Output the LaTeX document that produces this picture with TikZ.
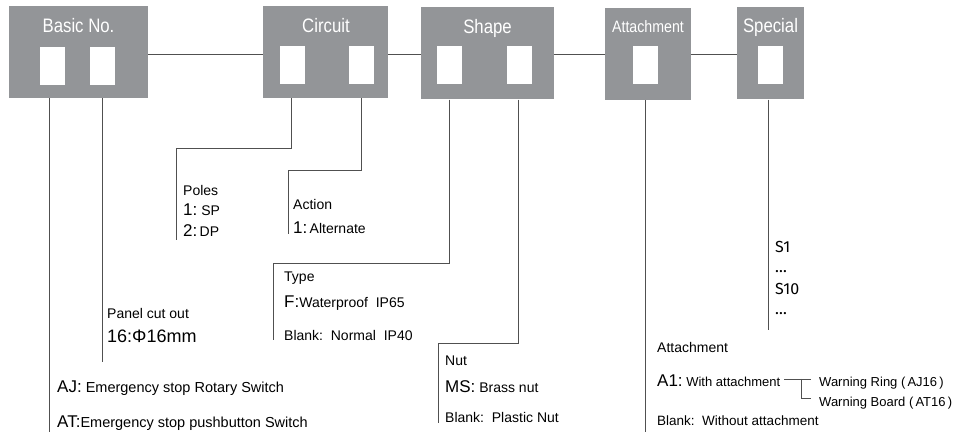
\documentclass[tikz,border=0pt]{standalone}
\usepackage{fontspec}
\setmainfont{Liberation Sans}
\newfontfamily\titlefont[FakeStretch=0.86]{Liberation Sans}
\newfontfamily\codefont{Fira Sans}
\usetikzlibrary{positioning}

\definecolor{boxgray}{RGB}{147,149,152}
\definecolor{wiregray}{RGB}{80,80,80}
\newcommand{\pre}[1]{{\fontsize{17}{20}\selectfont #1}}

\tikzset{
  field/.style={fill=boxgray, inner sep=0pt, minimum height=92},
  slot/.style={fill=white, inner sep=0pt, minimum width=25, minimum height=38},
  title/.style={text=white, anchor=base, inner sep=0pt, font=\titlefont\fontsize{19.5}{22}\selectfont},
  wire/.style={draw=wiregray, line width=0.9pt},
  lbl/.style={anchor=base west, inner sep=0pt, font=\fontsize{14}{16}\selectfont},
  code/.style={anchor=base west, inner sep=0pt, font=\codefont\fontsize{16}{18}\selectfont}
}

\begin{document}
\begin{tikzpicture}[x=1pt, y=-1pt]
  \useasboundingbox (0,0) rectangle (964,435);

  % code fields
  \node[field, minimum width=139] (basic) at (78.5,52) {};
  \node[field, minimum width=125] (circuit) at (325.5,52) {};
  \node[field, minimum width=133] (shape) at (487.5,53.5) {};
  \node[field, minimum width=86] (attach) at (648,54) {};
  \node[field, minimum width=67] (special) at (770.5,53.5) {};

  \node[title] (basicT) at (78.5,33) {Basic No.};
  \node[title] (circuitT) at (326,33) {Circuit};
  \node[title] (shapeT) at (487.5,34) {Shape};
  \node[title, font=\titlefont\fontsize{16.5}{19}\selectfont] (attachT) at (648,33) {Attachment};
  \node[title] (specialT) at (770.5,33) {Special};

  % white slots
  \node[slot] (bs1) at (52,66) {};
  \node[slot] (bs2) at (102.5,66) {};
  \node[slot] (cs1) at (292.5,65.5) {};
  \node[slot] (cs2) at (361.5,65.5) {};
  \node[slot] (ss1) at (449.5,65.5) {};
  \node[slot] (ss2) at (519.5,65.5) {};
  \node[slot] (as1) at (645.5,65.5) {};
  \node[slot] (xs1) at (770.5,65.5) {};

  % chain between fields
  \draw[wire] ([yshift=-2pt]basic.east) -- ([yshift=-2pt]basic.east -| circuit.west);
  \draw[wire] ([yshift=-2pt]circuit.east) -- ([yshift=-2pt]circuit.east -| shape.west);
  \draw[wire] ([yshift=-0.5pt]shape.east) -- ([yshift=-0.5pt]shape.east -| attach.west);
  \draw[wire] (attach.east) -- (attach.east -| special.west);

  % bends and ends
  \coordinate (ajEnd) at (49,432);
  \coordinate (panelEnd) at (102,362);
  \coordinate (polesTop) at (176,148);
  \coordinate (polesEnd) at (176,240);
  \coordinate (actionTop) at (288,170);
  \coordinate (actionEnd) at (288,234);
  \coordinate (typeTop) at (273,263);
  \coordinate (typeEnd) at (273,340);
  \coordinate (nutTop) at (438,343);
  \coordinate (nutEnd) at (438,423);
  \coordinate (attEnd) at (646,432);
  \coordinate (specEnd) at (768,330);

  \draw[wire] ([xshift=-3pt]bs1.south |- basic.south) -- ([xshift=-3pt]bs1.south |- ajEnd);
  \draw[wire] (bs2.south |- basic.south) -- (bs2.south |- panelEnd);
  \draw[wire] ([xshift=-1.5pt]cs1.south |- circuit.south) |- (polesTop) -- (polesEnd);
  \draw[wire] (cs2.south |- circuit.south) |- (actionTop) -- (actionEnd);
  \draw[wire] (ss1.south |- shape.south) |- (typeTop) -- (typeEnd);
  \draw[wire] ([xshift=-1.5pt]ss2.south |- shape.south) |- (nutTop) -- (nutEnd);
  \draw[wire] (as1.south |- attach.south) -- (as1.south |- attEnd);
  \draw[wire] ([xshift=-2.5pt]xs1.south |- special.south) -- ([xshift=-2.5pt]xs1.south |- specEnd);

  % descriptions
  \node[lbl] (poles) at (183,196) {Poles};
  \node[lbl] (sp) at (183,216) {\pre{1:}\ SP};
  \node[lbl] (dp) at (183,237) {\pre{2:}\,DP};
  \node[lbl] (action) at (293,210) {Action};
  \node[lbl] (alt) at (293,234) {\pre{1:}\,Alternate};
  \node[lbl] (type) at (284,282) {Type};
  \node[lbl] (wp) at (284,308) {\pre{F:}Waterproof\ \ IP65};
  \node[lbl] (nip) at (284,341) {Blank:\ \ Normal\ \ IP40};
  \node[lbl] (panel) at (107,319) {Panel cut out};
  \node[lbl, font=\fontsize{18}{20}\selectfont] (cut) at (107,343) {16:Φ16mm};
  \node[lbl, font=\fontsize{14.5}{16}\selectfont] (aj) at (57,393) {\pre{AJ:}\ Emergency stop Rotary Switch};
  \node[lbl, font=\fontsize{14.5}{16}\selectfont] (at) at (57,428) {\pre{AT:}Emergency stop pushbutton Switch};
  \node[lbl] (nut) at (445,366) {Nut};
  \node[lbl] (ms) at (445,393) {\pre{MS:}\ Brass nut};
  \node[lbl] (pn) at (445,423) {Blank:\ \ Plastic Nut};
  \node[lbl] (att) at (657,353) {Attachment};
  \node[lbl, font=\fontsize{13}{15}\selectfont] (a1) at (657,387) {\pre{A1:}\ With attachment};
  \node[lbl, font=\fontsize{13.5}{15}\selectfont] (wo) at (657,426) {Blank:\ \ Without attachment};
  \node[lbl, font=\fontsize{13}{15}\selectfont] (ring) at (819,387) {Warning Ring\ (\,AJ16\,)};
  \node[lbl, font=\fontsize{13}{15}\selectfont] (board) at (819,407) {Warning Board\ (\,AT16\,)};
  \node[code] (s1) at (775,253) {S1};
  \node[code] (dots1) at (775,273) {…};
  \node[code] (s10) at (775,295) {S10};
  \node[code] (dots2) at (775,315) {…};

  % bracket to the two warning parts
  \coordinate (brL) at (784,379);
  \coordinate (brJ) at (801,379);
  \coordinate (brR) at (811,379);
  \coordinate (brB) at (811,398);
  \draw[wire] (brL) -- (brR);
  \draw[wire] (brJ) |- (brB);
\end{tikzpicture}
\end{document}
